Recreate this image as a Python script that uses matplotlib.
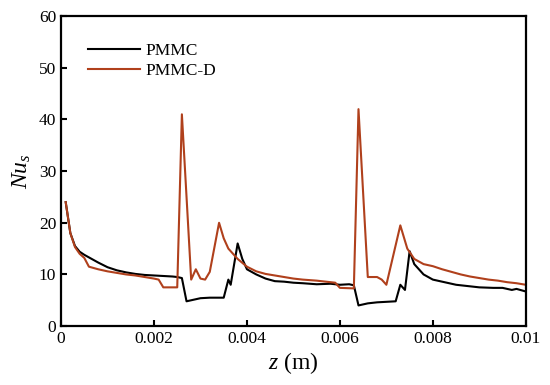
import numpy as np
import matplotlib.pyplot as plt

plt.rcParams['font.family'] = 'Liberation Serif'
plt.rcParams['mathtext.fontset'] = 'custom'
plt.rcParams['mathtext.it'] = 'Liberation Serif:italic'
plt.rcParams['mathtext.rm'] = 'Liberation Serif'

# PMMC (black)
z1 = [0.0001, 0.0002, 0.0003, 0.0004, 0.0005, 0.0006, 0.0008, 0.001, 0.0012, 0.0014,
      0.0016, 0.0018, 0.002, 0.0022, 0.0024, 0.0025, 0.0026, 0.0027, 0.0028, 0.003,
      0.0032, 0.0034, 0.0035, 0.0036, 0.00365, 0.0038, 0.0039, 0.004, 0.0042, 0.0044,
      0.0046, 0.0048, 0.005, 0.0052, 0.0055, 0.0058, 0.006, 0.0062, 0.0063, 0.0064,
      0.0066, 0.0068, 0.007, 0.0072, 0.0073, 0.0074, 0.0075, 0.0076, 0.0078, 0.008,
      0.0082, 0.0085, 0.0088, 0.009, 0.0093, 0.0095, 0.0097, 0.0098, 0.01]
nu1 = [24, 18, 15.5, 14.4, 13.8, 13.3, 12.3, 11.4, 10.8, 10.4,
       10.1, 9.9, 9.8, 9.7, 9.6, 9.5, 9.3, 4.8, 5.0, 5.4,
       5.5, 5.5, 5.5, 9.0, 8.0, 16.0, 13.0, 11.0, 10.0, 9.2,
       8.7, 8.6, 8.4, 8.3, 8.1, 8.2, 8.0, 8.1, 7.9, 4.0,
       4.4, 4.6, 4.7, 4.8, 8.0, 7.0, 14.5, 12.0, 10.0, 9.0,
       8.6, 8.0, 7.7, 7.5, 7.4, 7.4, 7.0, 7.2, 6.7]

# PMMC-D (red)
z2 = [0.0001, 0.0002, 0.0003, 0.0004, 0.0005, 0.0006, 0.0008, 0.001, 0.0012, 0.0014,
      0.0016, 0.0018, 0.0020, 0.0021, 0.0022, 0.0025, 0.0026, 0.0028, 0.0029, 0.003,
      0.0031, 0.0032, 0.0034, 0.0035, 0.0036, 0.0038, 0.004, 0.0042, 0.0044, 0.0046,
      0.0048, 0.005, 0.0052, 0.0055, 0.0058, 0.0059, 0.006, 0.0063, 0.0064, 0.0066,
      0.0068, 0.0069, 0.007, 0.0073, 0.00745, 0.0076, 0.0078, 0.008, 0.0082, 0.0084,
      0.0086, 0.0088, 0.009, 0.0092, 0.0094, 0.0096, 0.0098, 0.01]
nu2 = [24, 18, 15.3, 14, 13.2, 11.5, 11.0, 10.6, 10.3, 10.0,
       9.8, 9.5, 9.2, 9.0, 7.5, 7.5, 41, 9.0, 11.0, 9.2,
       9.0, 10.5, 20, 17, 15, 13, 11.5, 10.6, 10.1, 9.8,
       9.5, 9.2, 9.0, 8.8, 8.5, 8.4, 7.4, 7.3, 42, 9.5,
       9.5, 9.0, 8.0, 19.5, 15, 13, 12, 11.6, 11, 10.5,
       10.0, 9.6, 9.3, 9.0, 8.8, 8.5, 8.3, 8.0]

x_ticks = [0, 0.002, 0.004, 0.006, 0.008, 0.01]
x_labels = ['0', '0.002', '0.004', '0.006', '0.008', '0.01']
y_ticks = [0, 10, 20, 30, 40, 50, 60]

fig = plt.figure(figsize=(5.5, 3.85), dpi=100)
ax = fig.add_axes([0.111, 0.153, 0.845, 0.805])

ax.plot(z1, nu1, color='black', lw=1.5, label='PMMC')
ax.plot(z2, nu2, color='#b0401c', lw=1.5, label='PMMC-D')

ax.set_xlim(0, 0.01)
ax.set_ylim(0, 60)
ax.set_xticks(x_ticks)
ax.set_xticklabels(x_labels)
ax.set_yticks(y_ticks)
ax.tick_params(direction='in', width=1.5, length=4, labelsize=12.5)
for s in ax.spines.values():
    s.set_linewidth(1.6)

ax.set_xlabel('$z$ (m)', fontsize=17, labelpad=2)
ax.set_ylabel('$Nu_s$', fontsize=17, labelpad=4)

ax.legend(loc='upper left', frameon=False, fontsize=12.5, handlelength=3.0,
          handletextpad=0.3, bbox_to_anchor=(0.025, 0.965), labelspacing=0.25)

plt.savefig('out.png')
